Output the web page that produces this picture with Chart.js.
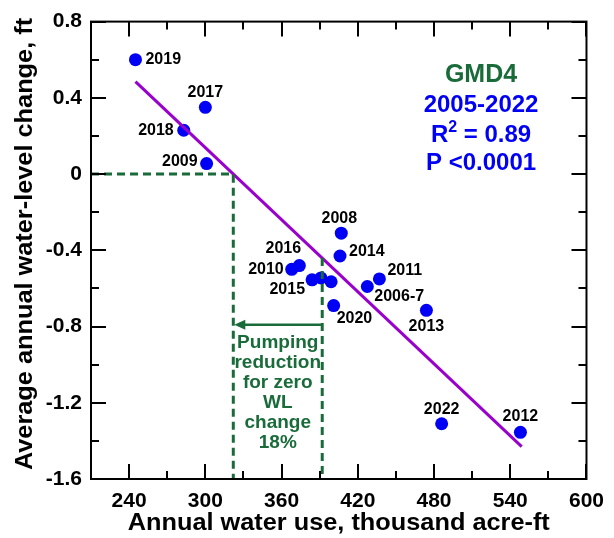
<!DOCTYPE html>
<html>
<head>
<meta charset="utf-8">
<script src="https://cdn.jsdelivr.net/npm/chart.js@4.4.1/dist/chart.umd.min.js"></script>
<style>
  html, body { margin: 0; padding: 0; background: #fff; }
  #wrap { width: 614px; height: 538px; }
</style>
</head>
<body>
<div id="wrap"><canvas id="chart" width="614" height="538"></canvas></div>
<script>
// Values
var years = ['2019', '2017', '2018', '2009', '2008', '2014', '2016', '2010', '2015', '', '', '2011', '2006-7', '2020', '2013', '2022', '2012'];
var waterUse = [245, 300, 283, 301, 407, 406, 374, 368, 384, 391, 399, 437, 427.5, 401, 474, 486, 548];
var wlChange = [0.60, 0.35, 0.23, 0.055, -0.31, -0.43, -0.48, -0.50, -0.555, -0.545, -0.565, -0.55, -0.59, -0.69, -0.715, -1.31, -1.355];

// regression line end points
var fitX = [245, 549];
var fitY = [0.485, -1.43];

// zero-change guide and pumping reduction
var zeroUse = 322;
var reducedUse = 392;
var reducedTop = -0.44;
var arrowLevel = -0.79;

var xTicks = [210, 600, 30];   // min, max, step
var yTicks = [-1.6, 0.8, 0.2];

var xTitle = 'Annual water use, thousand acre-ft';
var yTitle = 'Average annual water-level change, ft';

// label placement for each point: dx, dy, align
var labelPos = [
  [10, 0, 'left'], [0, -15, 'center'], [-10, 0, 'right'], [-9, -2, 'right'],
  [-2, -15, 'center'], [9, -4, 'left'], [-16, -17, 'center'], [-8, 0, 'right'],
  [-7, 10, 'right'], [0, 0, 'left'], [0, 0, 'left'], [8, -8, 'left'],
  [7, 10, 'left'], [3, 13, 'left'], [0, 16, 'center'], [0, -14, 'center'], [0, -16, 'center']
];

var BLUE = '#0000f5';
var GREEN = '#1a6b3a';
var PURPLE = '#9900cc';
var FONT = "'Liberation Sans', Arial, sans-serif";

var points = waterUse.map(function(x, i) { return {x: x, y: wlChange[i]}; });

function isMajor(v, step) {
  return Math.abs(Math.round(v / step) * step - v) < 1e-6;
}

// axis titles, slightly widened like the original's font
function wideText(ctx, text, x, y, rot) {
  ctx.save();
  ctx.translate(x, y);
  ctx.rotate(rot);
  ctx.scale(1.055, 1);
  ctx.fillText(text, 0, 0);
  ctx.restore();
}

var extras = {
  id: 'extras',
  afterDatasetsDraw: function(chart) {
    var ctx = chart.ctx;
    var a = chart.chartArea;
    var xs = chart.scales.x, ys = chart.scales.y;
    ctx.save();

    // point labels
    ctx.fillStyle = '#000';
    ctx.font = 'bold 16px ' + FONT;
    ctx.textBaseline = 'middle';
    points.forEach(function(p, i) {
      if (!years[i]) return;
      var px = xs.getPixelForValue(p.x), py = ys.getPixelForValue(p.y);
      ctx.textAlign = labelPos[i][2];
      ctx.fillText(years[i], px + labelPos[i][0], py + labelPos[i][1]);
    });

    // axis titles
    ctx.textAlign = 'center';
    ctx.font = 'bold 24px ' + FONT;
    wideText(ctx, xTitle, (a.left + a.right) / 2, 523, 0);
    wideText(ctx, yTitle, 25, 244, -Math.PI / 2);

    // arrow head
    var ax = xs.getPixelForValue(zeroUse) + 1, ay = ys.getPixelForValue(arrowLevel);
    ctx.fillStyle = GREEN;
    ctx.beginPath();
    ctx.moveTo(ax, ay);
    ctx.lineTo(ax + 11, ay - 5);
    ctx.lineTo(ax + 11, ay + 5);
    ctx.closePath();
    ctx.fill();

    // annotation text
    ctx.font = 'bold 19px ' + FONT;
    var note = ['Pumping', 'reduction', 'for zero', 'WL', 'change', '18%'];
    var nx = (xs.getPixelForValue(zeroUse) + xs.getPixelForValue(reducedUse)) / 2;
    var ny = ay + 18;
    note.forEach(function(t, i) { ctx.fillText(t, nx, ny + i * 20); });

    // stats block
    var sx = xs.getPixelForValue(517);
    ctx.font = 'bold 25px ' + FONT;
    ctx.fillStyle = GREEN;
    ctx.fillText('GMD4', sx, 75);
    ctx.fillStyle = BLUE;
    ctx.font = 'bold 24px ' + FONT;
    ctx.fillText('2005-2022', sx, 105);
    // R^2 with raised 2
    var w1 = ctx.measureText('R').width;
    var w3 = ctx.measureText(' = 0.89').width;
    ctx.font = 'bold 16px ' + FONT;
    var w2 = ctx.measureText('2').width;
    var left = sx - (w1 + w2 + w3) / 2;
    ctx.textAlign = 'left';
    ctx.font = 'bold 24px ' + FONT;
    ctx.fillText('R', left, 135);
    ctx.fillText(' = 0.89', left + w1 + w2, 135);
    ctx.font = 'bold 16px ' + FONT;
    ctx.fillText('2', left + w1, 128);
    ctx.textAlign = 'center';
    ctx.font = 'bold 24px ' + FONT;
    ctx.fillText('P <0.0001', sx, 163);

    // frame and inward ticks
    ctx.strokeStyle = '#000';
    ctx.lineWidth = 2;
    ctx.strokeRect(a.left, a.top, a.right - a.left, a.bottom - a.top);
    ctx.beginPath();
    xs.ticks.forEach(function(t) {
      var x = Math.round(xs.getPixelForValue(t.value));
      var len = isMajor(t.value, 60) ? 15 : 8;
      ctx.moveTo(x, a.bottom); ctx.lineTo(x, a.bottom - len);
      ctx.moveTo(x, a.top); ctx.lineTo(x, a.top + len);
    });
    ys.ticks.forEach(function(t) {
      var y = Math.round(ys.getPixelForValue(t.value));
      var len = isMajor(t.value, 0.4) ? 15 : 8;
      ctx.moveTo(a.left, y); ctx.lineTo(a.left + len, y);
      ctx.moveTo(a.right, y); ctx.lineTo(a.right - len, y);
    });
    ctx.stroke();
    ctx.restore();
  }
};

new Chart(document.getElementById('chart'), {
  type: 'scatter',
  data: {
    datasets: [{
      label: 'zero',
      data: [{x: xTicks[0], y: 0}, {x: zeroUse, y: 0}, {x: zeroUse, y: yTicks[0]}],
      showLine: true,
      borderColor: GREEN,
      borderWidth: 3,
      borderDash: [8, 5],
      pointRadius: 0
    }, {
      label: 'reduced',
      data: [{x: reducedUse, y: reducedTop}, {x: reducedUse, y: yTicks[0]}],
      showLine: true,
      borderColor: GREEN,
      borderWidth: 3,
      borderDash: [8, 5],
      pointRadius: 0
    }, {
      label: 'arrow',
      data: [{x: reducedUse - 1, y: arrowLevel}, {x: zeroUse + 5, y: arrowLevel}],
      showLine: true,
      borderColor: GREEN,
      borderWidth: 2.5,
      pointRadius: 0
    }, {
      label: 'fit',
      data: [{x: fitX[0], y: fitY[0]}, {x: fitX[1], y: fitY[1]}],
      showLine: true,
      borderColor: PURPLE,
      borderWidth: 3,
      pointRadius: 0
    }, {
      label: 'years',
      data: points,
      backgroundColor: BLUE,
      borderColor: BLUE,
      pointRadius: 6.5,
      pointBorderWidth: 0
    }]
  },
  options: {
    responsive: false,
    animation: false,
    layout: { padding: { left: 0, top: 20, right: 27, bottom: 0 } },
    plugins: { legend: { display: false }, tooltip: { enabled: false } },
    scales: {
      x: {
        type: 'linear',
        min: xTicks[0],
        max: xTicks[1],
        afterFit: function(s) { s.height = 59; },
        grid: { display: false, drawTicks: false },
        border: { display: false },
        ticks: {
          stepSize: xTicks[2],
          autoSkip: false,
          maxRotation: 0,
          padding: 10,
          color: '#000',
          font: { family: FONT, size: 21, weight: 'bold' },
          callback: function(v) { return isMajor(v, 60) ? String(v) : ''; }
        }
      },
      y: {
        min: yTicks[0],
        max: yTicks[1],
        afterFit: function(s) { s.width = 91; },
        grid: { display: false, drawTicks: false },
        border: { display: false },
        ticks: {
          stepSize: yTicks[2],
          autoSkip: false,
          padding: 9,
          color: '#000',
          font: { family: FONT, size: 21, weight: 'bold' },
          callback: function(v) {
            if (!isMajor(v, 0.4)) return '';
            var r = Math.round(v * 10) / 10;
            return r === 0 ? '0' : String(r);
          }
        }
      }
    }
  },
  plugins: [extras]
});
</script>
</body>
</html>
